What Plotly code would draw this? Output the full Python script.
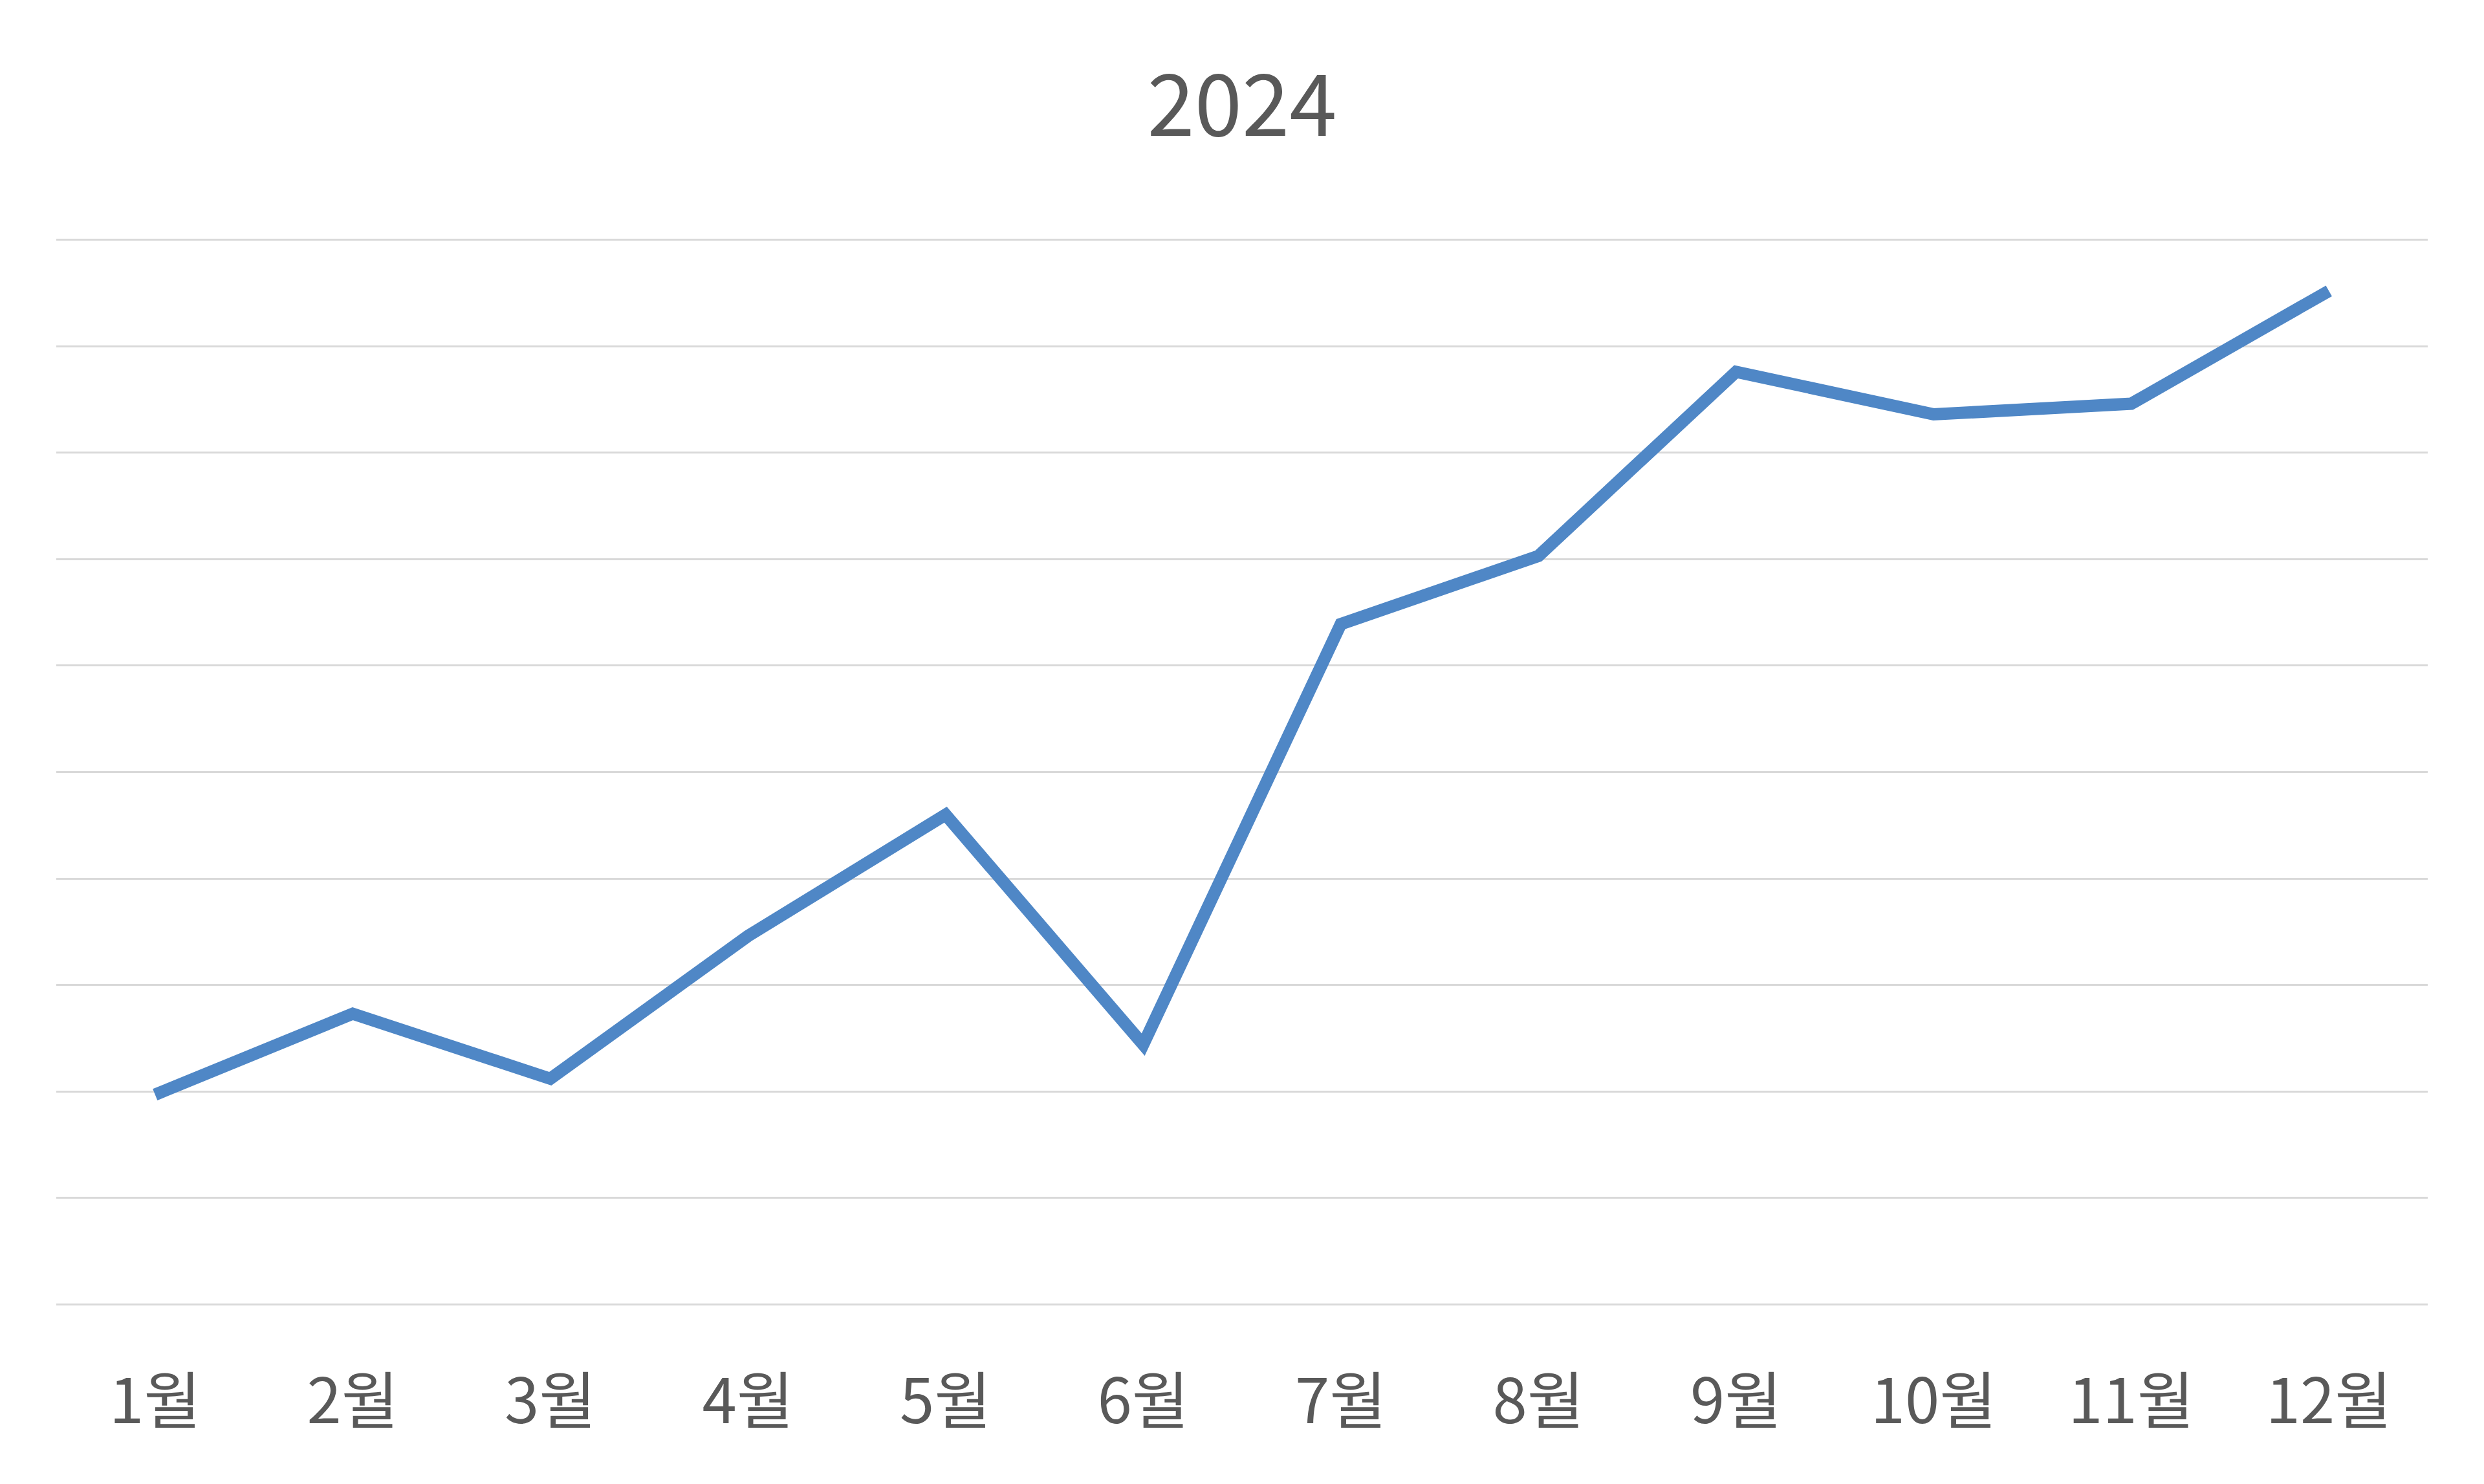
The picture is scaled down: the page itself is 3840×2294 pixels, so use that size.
import plotly.graph_objects as go

months = ["1월", "2월", "3월", "4월", "5월", "6월", "7월", "8월", "9월", "10월", "11월", "12월"]
values = [1.97, 2.73, 2.12, 3.46, 4.60, 2.44, 6.39, 7.03, 8.76, 8.36, 8.46, 9.52]
title_text = "2024"

W, H = 3840, 2294
fig = go.Figure()
fig.add_trace(go.Scatter(
    x=months, y=values, mode="lines",
    line=dict(color="#4F87C6", width=19, shape="linear"),
    hoverinfo="skip", showlegend=False,
))

font_family = "Noto Sans CJK KR, Noto Sans, sans-serif"
fig.update_layout(
    width=W, height=H,
    paper_bgcolor="white", plot_bgcolor="white",
    margin=dict(l=79, r=95, t=361, b=284),
    title=dict(text=title_text, x=0.5, xanchor="center", xref="paper",
               y=1 - 156 / H, yanchor="middle", yref="container",
               font=dict(family=font_family, size=132, color="#595959")),
    xaxis=dict(type="category", range=[-0.5, 11.5], showgrid=False, zeroline=False,
               showline=False, ticks="", ticklabelstandoff=85,
               tickfont=dict(family=font_family, size=96, color="#595959")),
    yaxis=dict(range=[-0.01, 10.01], dtick=1, tick0=0, showgrid=True, gridcolor="#D9D9D9",
               gridwidth=3, zeroline=False, showline=False, showticklabels=False, ticks=""),
)
fig.write_html("out.html")
